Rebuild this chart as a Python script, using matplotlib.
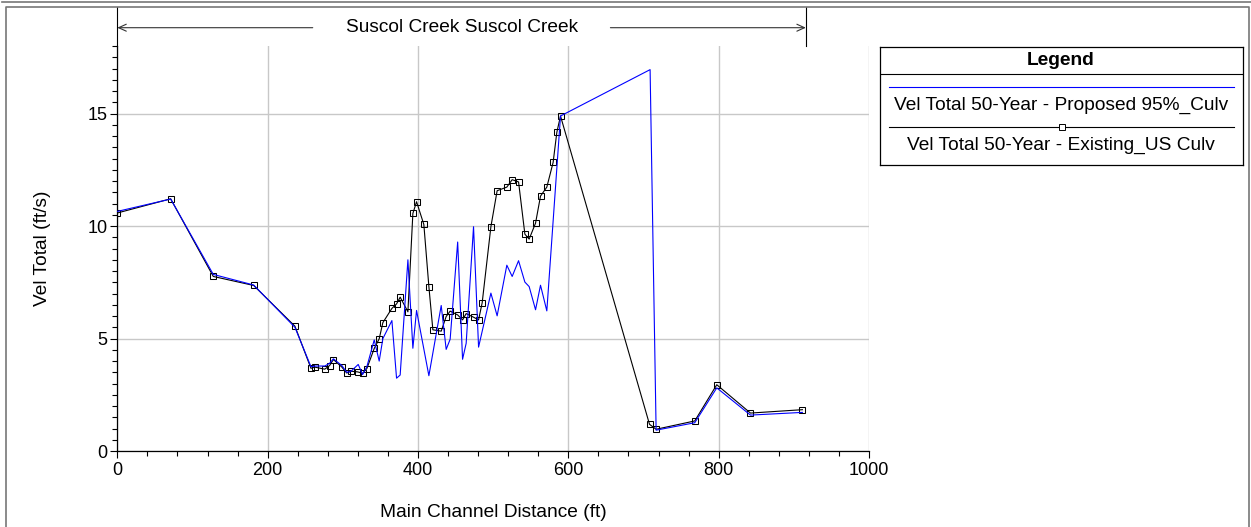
import numpy as np
import matplotlib
matplotlib.use("Agg")
import matplotlib.pyplot as plt
import matplotlib.transforms as mtransforms
from matplotlib.lines import Line2D
from matplotlib.ticker import MultipleLocator

plt.rcParams['font.family'] = ['Liberation Sans', 'DejaVu Sans']

# Existing_US Culv (black, square markers)
existing_x = [0, 71, 127.7, 181.4, 236.3, 257.6, 262.9, 276, 282.4, 287.5,
              298.8, 305.2, 311, 319.7, 326.3, 332, 341.8, 348.4, 353.3, 365.3,
              371.5, 376.3, 386.6, 393.2, 398.1, 407.8, 414.5, 419.8, 430.9, 437.5,
              442.8, 452.8, 459.3, 464.1, 473.9, 480.6, 485.4, 497, 505.3, 518.2,
              525.3, 533.8, 542.2, 547.9, 556.4, 563, 571.4, 579.8, 584.7, 589.6,
              708, 716.8, 768.2, 797.5, 842.3, 911.4]
existing_v = [10.58, 11.21, 7.76, 7.36, 5.55, 3.68, 3.73, 3.64, 3.80, 4.07,
              3.73, 3.47, 3.55, 3.52, 3.46, 3.67, 4.56, 4.99, 5.71, 6.34,
              6.54, 6.84, 6.19, 10.56, 11.08, 10.07, 7.31, 5.39, 5.33, 5.98,
              6.22, 6.05, 5.83, 6.11, 5.95, 5.83, 6.59, 9.97, 11.57, 11.73,
              12.06, 11.96, 9.64, 9.42, 10.13, 11.33, 11.73, 12.83, 14.16, 14.89,
              1.19, 0.97, 1.34, 2.95, 1.69, 1.84]

# Proposed 95%_Culv (blue line)
proposed_x = [0, 71, 127.7, 181.4, 236.3, 257.6, 262.9, 276, 282.4, 287.5,
              298.8, 305.2, 311, 320.5, 326.3, 332, 341.8, 348.4, 353.3, 365.3,
              371.5, 376.3, 386.6, 393.2, 398.1, 414.5, 430.9, 437.5, 442.8, 452.8,
              459.3, 464.1, 473.9, 480.6, 497, 505.3, 518.2, 525.3, 533.8, 542.2,
              547.9, 556.4, 563, 571.4, 589.6, 708.8, 716.8, 768.2, 797.5, 842.3,
              911.4]
proposed_v = [10.65, 11.2, 7.85, 7.38, 5.5, 3.75, 3.78, 3.78, 3.9, 4.1,
              3.8, 3.5, 3.55, 3.85, 3.4, 3.75, 4.94, 4.0, 5.0, 5.8,
              3.24, 3.38, 8.5, 4.57, 6.25, 3.35, 6.47, 4.52, 4.97, 9.29,
              4.08, 4.79, 9.97, 4.62, 7.02, 6.01, 8.26, 7.76, 8.46, 7.51,
              7.31, 6.28, 7.37, 6.23, 14.89, 16.95, 0.93, 1.26, 2.81, 1.6,
              1.72]

reach_name = "Suscol Creek Suscol Creek"
reach_start, reach_end = 0, 916
label_proposed = "Vel Total 50-Year - Proposed 95%_Culv"
label_existing = "Vel Total 50-Year - Existing_US Culv"

W, H = 1251, 527
fs_text = 13.8
fig = plt.figure(figsize=(W / 100, H / 100), dpi=100)
ax = fig.add_axes([117.3 / W, 1 - 451.1 / H, (869 - 117.3) / W, (451.1 - 46) / H])

ax.plot(existing_x, existing_v, color='black', lw=0.8, marker='s', ms=5,
        mfc='none', mec='black', mew=0.75, zorder=3)
ax.plot(proposed_x, proposed_v, color='#0000ff', lw=0.8, zorder=4)

ax.set_xlim(0, 1000)
ax.set_ylim(0, 18)
ax.xaxis.set_major_locator(MultipleLocator(200))
ax.xaxis.set_minor_locator(MultipleLocator(40))
ax.yaxis.set_major_locator(MultipleLocator(5))
ax.yaxis.set_minor_locator(MultipleLocator(0.5))
ax.grid(True, which='major', color='#c8c8c8', lw=1.0)
ax.set_axisbelow(True)
for s in ['top', 'right']:
    ax.spines[s].set_visible(False)
for s in ['left', 'bottom']:
    ax.spines[s].set_linewidth(0.9)
ax.tick_params(which='major', length=5, width=0.8, labelsize=13, pad=3)
ax.tick_params(which='minor', length=3.5, width=0.8)
ax.tick_params(axis='y', which='major', pad=2)
ax.set_xlabel('Main Channel Distance (ft)', fontsize=fs_text, labelpad=18)
ax.set_ylabel('Vel Total (ft/s)', fontsize=fs_text, labelpad=26)

# reach annotation above the plot
trans = mtransforms.blended_transform_factory(ax.transData, fig.transFigure)
y_top = 1 - 7.3 / H
y_ax = 1 - 46 / H
y_arr = 1 - 27.7 / H
for xr in (reach_start, reach_end):
    ax.plot([xr, xr], [y_ax, y_top], transform=trans, color='black', lw=0.8, clip_on=False)
x_mid = (reach_start + reach_end) / 2
ax.text(x_mid, y_arr, reach_name, transform=trans, ha='center', va='center', fontsize=fs_text)
aprops = dict(arrowstyle='->,head_length=0.55,head_width=0.25', color='#333333', lw=0.8,
              shrinkA=0, shrinkB=0)
ax.annotate('', xy=(reach_start, y_arr), xytext=(260, y_arr), xycoords=trans,
            textcoords=trans, arrowprops=aprops)
ax.annotate('', xy=(reach_end, y_arr), xytext=(656, y_arr), xycoords=trans,
            textcoords=trans, arrowprops=aprops)

# legend box (pixel coordinates)
lax = fig.add_axes([880 / W, 1 - 165 / H, 362.7 / W, (165 - 47.3) / H])
lax.set_xlim(0, 362.7)
lax.set_ylim(117.7, 0)
lax.set_xticks([])
lax.set_yticks([])
for s in lax.spines.values():
    s.set_linewidth(0.9)
lax.axhline(27, color='black', lw=0.8)
lax.text(181, 13, 'Legend', ha='center', va='center', fontsize=fs_text, fontweight='bold')
lax.add_line(Line2D([9, 354], [40, 40], color='#0000ff', lw=0.8))
lax.text(181, 58.4, label_proposed, ha='center', va='center', fontsize=fs_text)
lax.add_line(Line2D([9, 354], [80, 80], color='black', lw=0.8))
lax.add_line(Line2D([181.5], [80], marker='s', ms=4, mfc='white', mec='black', mew=0.7))
lax.text(181, 97.7, label_existing, ha='center', va='center', fontsize=fs_text)

# outer frames
frame = '#777777'
fig.add_artist(Line2D([1.7 / W, 1], [1 - 1.7 / H, 1 - 1.7 / H], transform=fig.transFigure,
                      color=frame, lw=1.2))
fig.add_artist(Line2D([5.7 / W, 5.7 / W, 1248.5 / W, 1248.5 / W],
                      [0, 1 - 7.3 / H, 1 - 7.3 / H, 0], transform=fig.transFigure,
                      color=frame, lw=1.2))

fig.savefig('out.png', dpi=100)
